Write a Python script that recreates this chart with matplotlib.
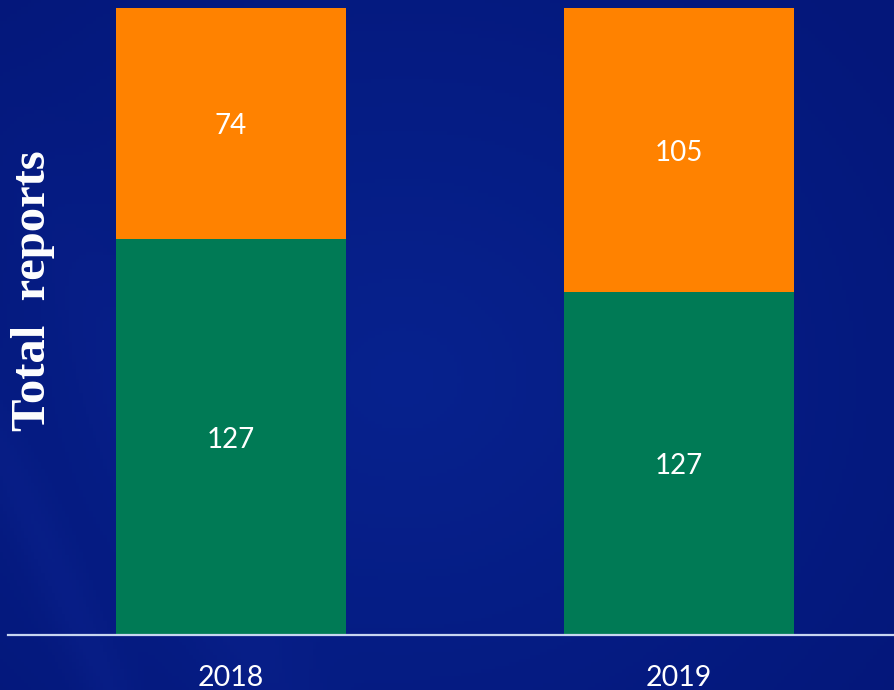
import numpy as np
import matplotlib
matplotlib.use("Agg")
import matplotlib.pyplot as plt
from matplotlib.transforms import offset_copy

years = ["2018", "2019"]
green_vals = [127, 127]
orange_vals = [74, 105]

green_color = "#007a55"
orange_color = "#ff8200"

W, H = 894, 690
fig = plt.figure(figsize=(W / 100, H / 100), dpi=100)

# background gradient
bg = fig.add_axes([0, 0, 1, 1])
bg.set_axis_off()
ny, nx = 200, 260
yy, xx = np.mgrid[0:1:ny * 1j, 0:1:nx * 1j]
c_center = np.array([0x07, 0x22, 0x8e]) / 255.0
c_edge = np.array([0x04, 0x17, 0x7a]) / 255.0
d = np.clip(np.sqrt(((xx - 0.45) / 0.7) ** 2 + ((yy - 0.55) / 0.8) ** 2), 0, 1)
img = c_center[None, None, :] * (1 - d[..., None]) + c_edge[None, None, :] * d[..., None]
# faint diagonal streaks from bottom-left
s = xx * 1.0 + (1 - yy) * 0.35
streak = np.exp(-((s - 0.12) / 0.03) ** 2) * 0.025 + np.exp(-((s - 0.30) / 0.06) ** 2) * 0.02
streak *= np.clip(yy * 1.3, 0, 1)
img = np.clip(img + streak[..., None] * np.array([0.4, 0.5, 0.9]), 0, 1)
bg.imshow(img, extent=[0, 1, 0, 1], aspect="auto", origin="upper")
bg.set_xlim(0, 1)
bg.set_ylim(0, 1)

ax = fig.add_axes([8 / W, 55 / H, (W - 8) / W, 627 / H])
ax.patch.set_alpha(0)

totals = [g + o for g, o in zip(green_vals, orange_vals)]
gp = [g / t for g, t in zip(green_vals, totals)]
op = [o / t for o, t in zip(orange_vals, totals)]
x = np.arange(len(years))
width = 0.513
ax.bar(x, gp, width=width, color=green_color, linewidth=0)
ax.bar(x, op, width=width, bottom=gp, color=orange_color, linewidth=0)

tr = offset_copy(ax.transData, fig=fig, x=0, y=-3, units="dots")
for xi, g, o, gv, ov in zip(x, gp, op, green_vals, orange_vals):
    ax.text(xi, g / 2, str(gv), ha="center", va="center", color="white",
            fontsize=20, family="Lato", transform=tr)
    ax.text(xi, g + o / 2, str(ov), ha="center", va="center", color="white",
            fontsize=20, family="Lato", transform=tr)

ax.set_xlim(-0.4978, 1.48)
ax.set_ylim(0, 1)
for sp in ["top", "right", "left"]:
    ax.spines[sp].set_visible(False)
ax.spines["bottom"].set_color("#c8d6f0")
ax.spines["bottom"].set_linewidth(1.6)
ax.set_yticks([])
ax.set_xticks(x)
ax.set_xticklabels(years, fontsize=20.5, color="white", family="Lato")
ax.tick_params(axis="x", length=0, pad=21.5)

fig.text(33 / W, 1 - 291 / H, "Total  reports", rotation=90, ha="center", va="center",
         color="white", fontsize=35, fontweight="bold", family="Liberation Serif")

fig.savefig("out.png", dpi=100)
